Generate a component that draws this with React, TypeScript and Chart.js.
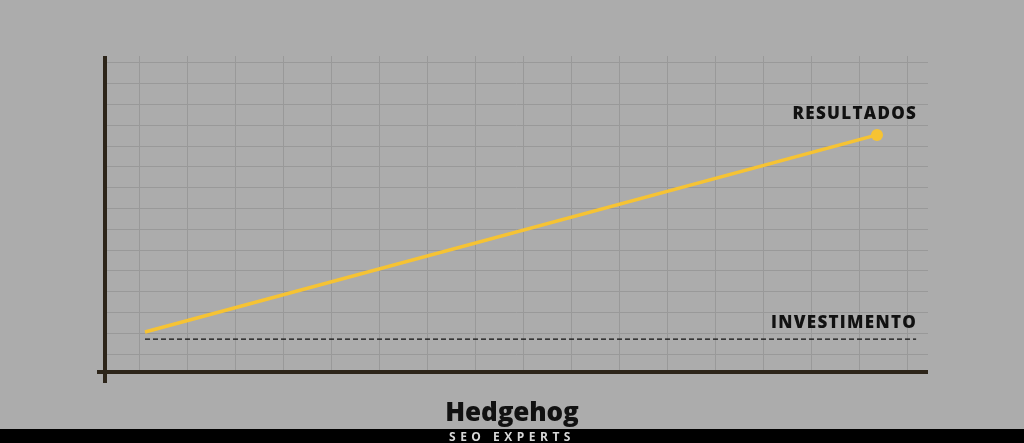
import React, { useEffect, useRef } from "react";
import { Chart, registerables } from "chart.js";

Chart.register(...registerables);

const resultX = [0.125, 15.375];
const resultY = [1.06, 10.54];
const investX = [0.125, 16.19];
const investY = [0.72, 0.72];
const seriesLabels = ["RESULTADOS", "INVESTIMENTO"];
const xTicks = Array.from({ length: 17 }, (_, i) => i);
const yTicks = Array.from({ length: 15 }, (_, i) => i);

const BG = "#acacac";
const AXIS = "#2d251a";
const YELLOW = "#f6c333";

const axesPlugin = {
  id: "crossAxes",
  afterDatasetsDraw(chart: any) {
    const { ctx, chartArea } = chart;
    ctx.save();
    ctx.strokeStyle = AXIS;
    ctx.lineWidth = 4;
    ctx.lineCap = "butt";
    ctx.beginPath();
    ctx.moveTo(chartArea.left, chartArea.top);
    ctx.lineTo(chartArea.left, chartArea.bottom + 11);
    ctx.moveTo(chartArea.left - 8, chartArea.bottom);
    ctx.lineTo(chartArea.right, chartArea.bottom);
    ctx.stroke();
    ctx.restore();
  },
};

const labelPlugin = {
  id: "endLabels",
  afterDatasetsDraw(chart: any) {
    const { ctx } = chart;
    const xs = chart.scales.x;
    const ys = chart.scales.y;
    const rightX = xs.getPixelForValue(investX[investX.length - 1]);
    ctx.save();
    ctx.fillStyle = "#111111";
    ctx.font = "800 17px 'Open Sans'";
    ctx.textAlign = "right";
    ctx.textBaseline = "alphabetic";
    try { (ctx as any).letterSpacing = "1.3px"; } catch (e) {}
    const rY = ys.getPixelForValue(resultY[resultY.length - 1]);
    ctx.fillText(seriesLabels[0], rightX + 1, rY - 16);
    const iY = ys.getPixelForValue(investY[investY.length - 1]);
    ctx.fillText(seriesLabels[1], rightX + 1, iY - 11);
    ctx.restore();
  },
};

function ChartView() {
  const ref = useRef<HTMLCanvasElement | null>(null);
  useEffect(() => {
    if (!ref.current) return;
    const chart = new Chart(ref.current, {
      type: "line",
      data: {
        datasets: [
          {
            label: seriesLabels[0],
            data: resultX.map((x, i) => ({ x, y: resultY[i] })),
            borderColor: YELLOW,
            backgroundColor: YELLOW,
            borderWidth: 3.5,
            pointRadius: [0, 6],
            pointHoverRadius: [0, 6],
            pointBorderWidth: 0,
            tension: 0,
          },
          {
            label: seriesLabels[1],
            data: investX.map((x, i) => ({ x, y: investY[i] })),
            borderColor: "#111111",
            borderWidth: 1.3,
            borderDash: [5, 3],
            pointRadius: 0,
            tension: 0,
          },
        ],
      },
      options: {
        animation: false,
        responsive: false,
        maintainAspectRatio: false,
        layout: { padding: { left: 105, right: 96, top: 56, bottom: 71 } },
        plugins: { legend: { display: false }, tooltip: { enabled: false } },
        scales: {
          x: {
            type: "linear",
            min: -34 / 48,
            max: 789 / 48,
            afterBuildTicks: (s: any) => {
              s.ticks = xTicks.map((v) => ({ value: v }));
            },
            ticks: { display: false },
            grid: { color: "#999999", lineWidth: 1, drawTicks: false },
            border: { display: false },
          },
          y: {
            type: "linear",
            min: -18 / 20.786,
            max: 14 + 7 / 20.786,
            afterBuildTicks: (s: any) => {
              s.ticks = yTicks.map((v) => ({ value: v }));
            },
            ticks: { display: false },
            grid: { color: "#999999", lineWidth: 1, drawTicks: false },
            border: { display: false },
          },
        },
      },
      plugins: [axesPlugin, labelPlugin],
    });
    return () => chart.destroy();
  }, []);
  return <canvas ref={ref} width={1024} height={443} style={{ position: "absolute", left: 0, top: 0, width: 1024, height: 443 }} />;
}

export default function App() {
  return (
    <div style={{ position: "fixed", left: 0, top: 0, width: 1024, height: 443, background: BG, overflow: "hidden" }}>
      <ChartView />
      <div
        style={{
          position: "absolute",
          left: 0,
          top: 394,
          width: 1024,
          textAlign: "center",
          fontFamily: "'Open Sans', sans-serif",
          fontWeight: 800,
          fontSize: 26,
          lineHeight: "34px",
          color: "#111111",
          letterSpacing: "-0.1px",
        }}
      >
        Hedgehog
      </div>
      <div
        style={{
          position: "absolute",
          left: 0,
          top: 429,
          width: 1024,
          height: 14,
          background: "#000000",
          textAlign: "center",
          fontFamily: "'Open Sans', sans-serif",
          fontWeight: 700,
          fontSize: 12,
          lineHeight: "15px",
          color: "#d8d8d8",
          letterSpacing: "4.5px",
        }}
      >
        SEO EXPERTS
      </div>
    </div>
  );
}
